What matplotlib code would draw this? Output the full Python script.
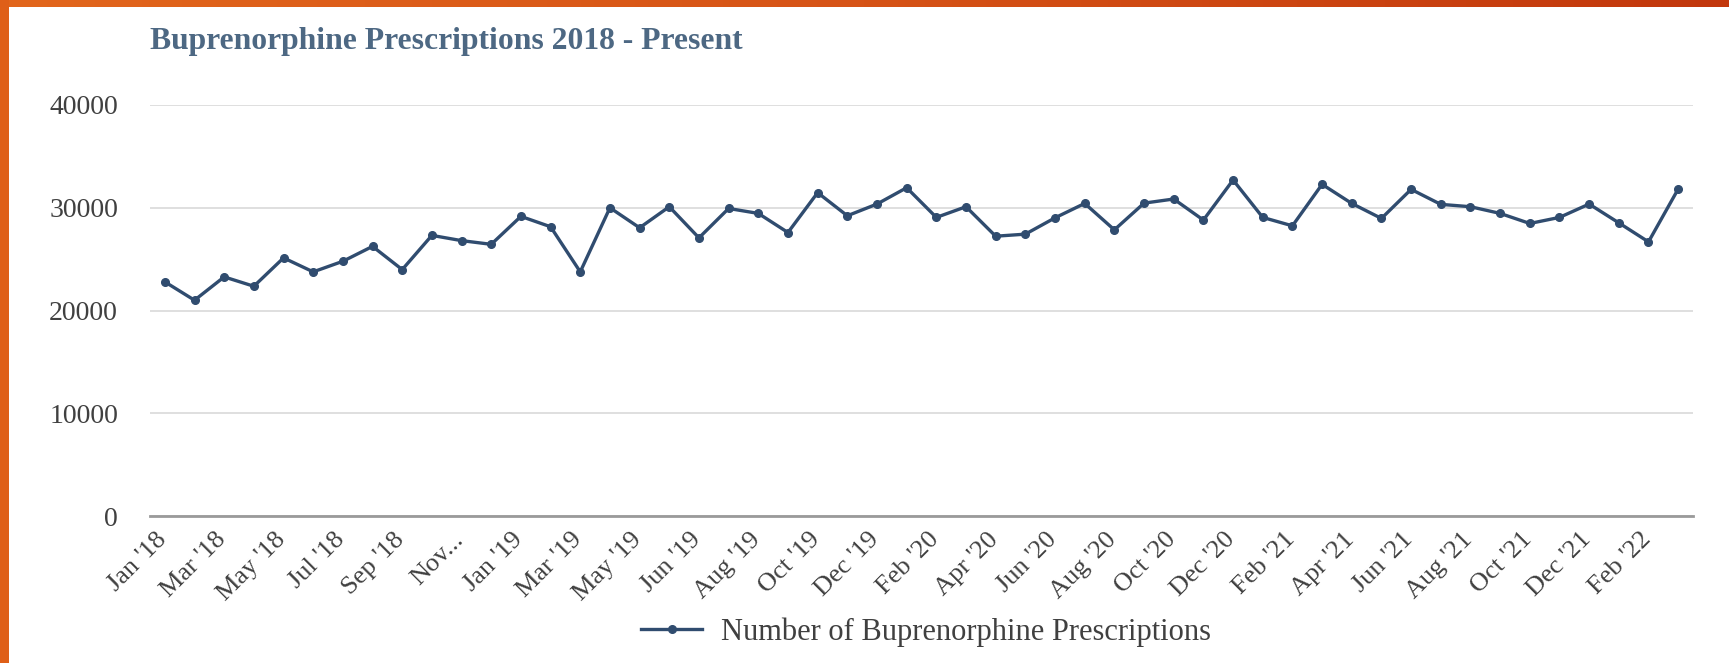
import numpy as np
import matplotlib.pyplot as plt
import matplotlib.transforms as mtransforms
from matplotlib.lines import Line2D
from matplotlib.colors import LinearSegmentedColormap

# monthly buprenorphine prescriptions, Jan 2018 - Mar 2022
prescriptions = [
    22790, 21000, 23270, 22360, 25120, 23760, 24790, 26240, 23980, 27310,
    26800, 26440, 29160, 28150, 23760, 30000, 28050, 30100, 27070, 29930,
    29450, 27590, 31470, 29220, 30360, 31950, 29060, 30100, 27230, 27430,
    29020, 30420, 27850, 30450, 30850, 28800, 32700, 29060, 28240, 32280,
    30420, 28960, 31790, 30330, 30100, 29450, 28470, 29060, 30360, 28530,
    26680, 31820,
]

# every second category carries a label
tick_labels = [
    "Jan '18", "Mar '18", "May '18", "Jul '18", "Sep '18", "Nov...",
    "Jan '19", "Mar '19", "May '19", "Jun '19", "Aug '19", "Oct '19",
    "Dec '19", "Feb '20", "Apr '20", "Jun '20", "Aug '20", "Oct '20",
    "Dec '20", "Feb '21", "Apr '21", "Jun '21", "Aug '21", "Oct '21",
    "Dec '21", "Feb '22",
]

y_ticks = [0, 10000, 20000, 30000, 40000]

line_color = '#304c6f'
text_color = '#404040'
title_color = '#4d6883'
serif = ['Liberation Serif', 'DejaVu Serif']

W, H = 1729, 663
fig = plt.figure(figsize=(W / 100, H / 100), dpi=100)
fig.patch.set_facecolor('white')

# orange frame strips, top one fading to a darker red-orange
top = fig.add_axes([0, 1 - 7 / H, 1, 7 / H])
grad = np.linspace(0, 1, 256)[None, :]
cmap = LinearSegmentedColormap.from_list('frame', ['#e2661c', '#d65316', '#c2370c'])
top.imshow(grad, aspect='auto', cmap=cmap, extent=[0, 1, 0, 1])
top.axis('off')
left = fig.add_axes([0, 0, 9 / W, 1])
left.set_facecolor('#df5f18')
left.set_xticks([])
left.set_yticks([])
for s in left.spines.values():
    s.set_visible(False)

ax = fig.add_axes([150 / W, 1 - 516 / H, (1693 - 150) / W, (516 - 105) / H])
x = np.arange(len(prescriptions))
ax.plot(x, prescriptions, color=line_color, lw=2.4, marker='o', ms=5.5,
        label='Number of Buprenorphine Prescriptions')

ax.set_xlim(-0.5, len(prescriptions) - 0.5)
ax.set_ylim(0, 40000)
ax.set_yticks(y_ticks)
ax.set_yticklabels([str(v) for v in y_ticks], fontfamily=serif, fontsize=20,
                   color=text_color)
ax.set_xticks(x[::2])
ax.set_xticklabels(tick_labels, rotation=45, ha='right', rotation_mode='anchor',
                   fontfamily=serif, fontsize=19, color=text_color)
ax.tick_params(axis='both', length=0)
ax.tick_params(axis='y', pad=23)
ax.tick_params(axis='x', pad=9)
# nudge rotated labels left so their ends sit under the points
shift = mtransforms.ScaledTranslation(-9 / 100, 0, fig.dpi_scale_trans)
for lab in ax.get_xticklabels():
    lab.set_transform(lab.get_transform() + shift)
ax.grid(axis='y', color='#dcdcdc', lw=1.3)
ax.set_axisbelow(True)
for name in ['top', 'right', 'left']:
    ax.spines[name].set_visible(False)
ax.spines['bottom'].set_color('#9a9a9a')
ax.spines['bottom'].set_linewidth(2)

fig.text(150 / W, 1 - 42 / H, 'Buprenorphine Prescriptions 2018 - Present',
         fontfamily=serif, fontsize=22.8, fontweight='bold', color=title_color,
         va='center', ha='left')

handle = Line2D([], [], color=line_color, lw=2.4, marker='o', ms=5.5)
fig.legend([handle], ['Number of Buprenorphine Prescriptions'],
           loc='center', bbox_to_anchor=(926 / W, 1 - 632 / H), frameon=False,
           prop={'family': serif, 'size': 22}, handlelength=2.0,
           handletextpad=0.6, labelcolor=text_color)

fig.savefig('out.png', dpi=100, facecolor='white')
